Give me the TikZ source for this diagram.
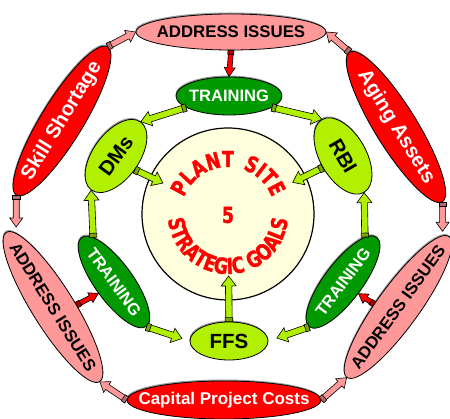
\documentclass[tikz,border=0pt]{standalone}
\usepackage{fontspec}
\setmainfont{Liberation Sans}
\newfontfamily\circfont[FakeStretch=0.78, BoldFeatures={FakeBold=1.5}]{DejaVu Sans}
\usetikzlibrary{shapes.geometric,calc,decorations.text}

\definecolor{pinkA}{HTML}{FF9999}
\definecolor{redA}{HTML}{FF0000}
\definecolor{greenD}{HTML}{009900}
\definecolor{greenL}{HTML}{B0F000}
\definecolor{cream}{HTML}{FFFFDD}

% block arrow: #1 fill, #2 shaft half width, #3 head half width,
% #4 head length, #5 tail band half width, #6 start, #7 tip
\newcommand\barrow[7]{%
  \path #6 coordinate (ba-s) #7 coordinate (ba-t);
  \path ($(ba-t)!#4!(ba-s)$) coordinate (ba-h)
        ($(ba-s)!4pt!(ba-t)$) coordinate (ba-b);
  \filldraw[arrowline, fill=#1]
    ($(ba-s)!#2!90:(ba-t)$) -- ($(ba-h)!#2!-90:(ba-s)$)
    -- ($(ba-h)!#3!-90:(ba-s)$) -- (ba-t)
    -- ($(ba-h)!#3!90:(ba-s)$) -- ($(ba-h)!#2!90:(ba-s)$)
    -- ($(ba-s)!#2!-90:(ba-t)$) -- cycle;
  \filldraw[arrowline, fill=#1!70!black]
    ($(ba-s)!#5!90:(ba-t)$) -- ($(ba-b)!#5!-90:(ba-s)$)
    -- ($(ba-b)!#5!90:(ba-s)$) -- ($(ba-s)!#5!-90:(ba-t)$) -- cycle;
}
\newcommand\pinkarrow{\barrow{pinkA}{3pt}{6.5pt}{9pt}{3.6pt}}
\newcommand\redarrow{\barrow{redA}{2.4pt}{5.5pt}{9pt}{3pt}}
\newcommand\greenarrow{\barrow{greenL}{3.2pt}{7.5pt}{10pt}{3.8pt}}
\newcommand\lbl[1]{\makebox[0pt]{#1}}
\newcommand\goalfont{\circfont\bfseries\fontsize{22}{24}\selectfont\color{redA}}

\tikzset{
  arrowline/.style={draw=black, line width=0.6pt, line join=miter},
  oval/.style={ellipse, draw=black, line width=0.8pt, inner sep=0pt,
    preaction={fill=black!40, transform canvas={shift={(-0.6pt,1.5pt)}}}},
  pinkoval/.style={oval, fill=pinkA, text=black,
    font=\fontsize{16.8}{19}\selectfont\bfseries},
  redoval/.style={oval, fill=redA, text=white,
    font=\fontsize{20.2}{23}\selectfont\bfseries},
  trainoval/.style={oval, fill=greenD, text=white,
    font=\fontsize{16.5}{19}\selectfont\bfseries},
  limeoval/.style={oval, fill=greenL, text=black,
    font=\fontsize{20.5}{23}\selectfont\bfseries},
  goaltext/.style={decorate, font=\goalfont,
    decoration={text along path, text align=center}},
}

\begin{document}
\begin{tikzpicture}[x=1pt, y=-1pt]
\useasboundingbox (0,0) rectangle (450,419);

% central goal circle
\node[circle, draw=black, line width=1.2pt, fill=cream,
      minimum size=172pt, inner sep=0pt] (circ) at (228,214) {};

% outer ring
\node[pinkoval, minimum width=190pt, minimum height=36pt] (addrT) at (231,32) {\lbl{ADDRESS ISSUES}};
\node[redoval, minimum width=174pt, minimum height=42pt, rotate=58.4] (skill) at (62,121) {\lbl{Skill Shortage}};
\node[redoval, minimum width=176pt, minimum height=42pt, rotate=-58.2] (aging) at (396,127) {\lbl{Aging Assets}};
\node[pinkoval, minimum width=176pt, minimum height=42pt, rotate=-58] (addrL) at (53,307) {\lbl{ADDRESS ISSUES}};
\node[pinkoval, minimum width=174pt, minimum height=42pt, rotate=54] (addrR) at (398,307) {\lbl{ADDRESS ISSUES}};
\node[redoval, minimum width=194pt, minimum height=38pt,
      font=\fontsize{17}{20}\selectfont\bfseries] (cap) at (224,400) {\lbl{Capital Project Costs}};

% inner ring
\node[trainoval, minimum width=106pt, minimum height=38pt] (trainT) at (229,96) {\lbl{TRAINING}};
\node[trainoval, minimum width=110pt, minimum height=38pt, rotate=-54] (trainL) at (114,282) {\lbl{TRAINING}};
\node[trainoval, minimum width=112pt, minimum height=38pt, rotate=53] (trainR) at (343,282) {\lbl{TRAINING}};
\node[limeoval, minimum width=84pt, minimum height=46pt, rotate=54] (dms) at (116,156) {\lbl{DMs}};
\node[limeoval, minimum width=84pt, minimum height=46pt, rotate=-60] (rbi) at (343,156) {\lbl{RBI}};
\node[limeoval, minimum width=78pt, minimum height=38pt] (ffs) at (229,341) {\lbl{FFS}};

% lettering inside the circle
\begin{scope}[shift={(circ.center)}, y=1pt]
  \path[goaltext, decoration={text={|\goalfont|PLANT{\kern9pt}SITE}}]
    (175:47) arc (175:5:47);
  \path[goaltext, decoration={text={|\goalfont|STRATEGIC{\kern6pt}GOALS}}]
    (178:60) arc (178:362:60);
\end{scope}
\node[font=\goalfont] (five) at (228,215) {5};

% pink feeders of the outer ring
\pinkarrow{(skill.east)}{(addrT.west)}
\pinkarrow{(aging.west)}{(addrT.east)}
\pinkarrow{(skill.west)}{($(skill.west |- addrL.west)+(0,-5)$)}
\pinkarrow{(aging.east)}{($(aging.east |- addrR.east)+(0,-5)$)}
\pinkarrow{(cap.west)}{(addrL.east)}
\pinkarrow{(cap.east)}{(addrR.west)}

% red links into training
\redarrow{(addrT.south)}{(trainT.north)}
\redarrow{(addrL.63)}{(trainL.south)}
\redarrow{(addrR.119)}{(trainR.south)}

% green links of the inner ring
\greenarrow{(trainT.195)}{(dms.east)}
\greenarrow{(trainT.345)}{(rbi.west)}
\greenarrow{(trainL.169)}{(dms.west)}
\greenarrow{(trainR.11)}{(rbi.east)}
\greenarrow{(trainL.east)}{($(ffs.west)!8pt!(trainL.east)$)}
\greenarrow{(trainR.west)}{($(ffs.east)!9pt!(trainR.west)$)}
\greenarrow{(dms.south)}{($(circ.center)!72pt!(dms.south)$)}
\greenarrow{(rbi.south)}{($(circ.center)!72pt!(rbi.south)$)}
\greenarrow{(ffs.north)}{($(circ.center)!62pt!(ffs.north)$)}
\end{tikzpicture}
\end{document}
